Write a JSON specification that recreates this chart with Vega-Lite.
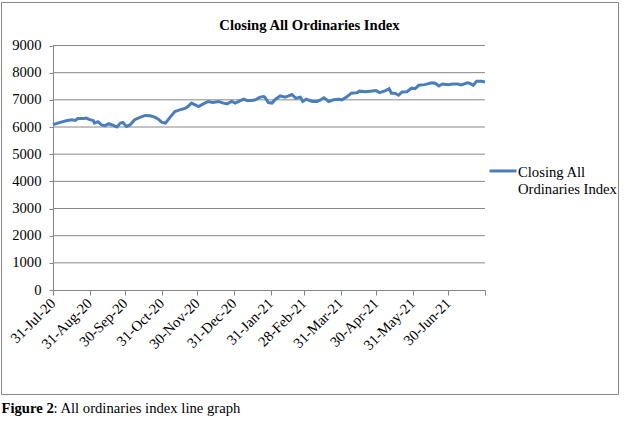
{
  "$schema": "https://vega.github.io/schema/vega-lite/v6.json",
  "autosize": "none",
  "width": 617,
  "height": 392,
  "padding": {"left": 1, "top": 2, "right": 6, "bottom": 27},
  "background": "white",
  "title": {
    "text": "Closing All Ordinaries Index",
    "orient": "top",
    "anchor": "middle",
    "frame": "group",
    "offset": -43,
    "baseline": "alphabetic",
    "font": "Liberation Serif",
    "fontSize": 14.67,
    "fontWeight": "bold",
    "color": "#000000"
  },
  "config": {
    "view": {"stroke": "#868686", "strokeWidth": 1},
    "axis": {
      "labelFont": "Liberation Serif",
      "labelFontSize": 14.67,
      "labelColor": "#000000",
      "domainColor": "#868686",
      "tickColor": "#868686",
      "titleFont": "Liberation Serif",
      "titleFontSize": 14.67,
      "titleColor": "#000000",
      "grid": false
    },
    "legend": {
      "labelFont": "Liberation Serif",
      "labelFontSize": 14.67,
      "labelColor": "#000000"
    }
  },
  "datasets": {
    "index": [
      {"date": "2020-07-31", "close": 6085},
      {"date": "2020-08-06", "close": 6170},
      {"date": "2020-08-12", "close": 6240},
      {"date": "2020-08-16", "close": 6270},
      {"date": "2020-08-19", "close": 6240},
      {"date": "2020-08-21", "close": 6315},
      {"date": "2020-08-26", "close": 6315},
      {"date": "2020-08-28", "close": 6330},
      {"date": "2020-08-31", "close": 6270},
      {"date": "2020-09-03", "close": 6240},
      {"date": "2020-09-04", "close": 6145},
      {"date": "2020-09-07", "close": 6195},
      {"date": "2020-09-10", "close": 6075},
      {"date": "2020-09-13", "close": 6050},
      {"date": "2020-09-16", "close": 6120},
      {"date": "2020-09-19", "close": 6075},
      {"date": "2020-09-23", "close": 6000},
      {"date": "2020-09-26", "close": 6145},
      {"date": "2020-09-28", "close": 6170},
      {"date": "2020-10-01", "close": 6020},
      {"date": "2020-10-04", "close": 6075},
      {"date": "2020-10-08", "close": 6270},
      {"date": "2020-10-13", "close": 6365},
      {"date": "2020-10-17", "close": 6425},
      {"date": "2020-10-21", "close": 6415},
      {"date": "2020-10-25", "close": 6365},
      {"date": "2020-10-28", "close": 6290},
      {"date": "2020-10-31", "close": 6170},
      {"date": "2020-11-03", "close": 6145},
      {"date": "2020-11-07", "close": 6365},
      {"date": "2020-11-11", "close": 6570},
      {"date": "2020-11-15", "close": 6630},
      {"date": "2020-11-20", "close": 6695},
      {"date": "2020-11-22", "close": 6755},
      {"date": "2020-11-25", "close": 6880},
      {"date": "2020-11-28", "close": 6815},
      {"date": "2020-12-01", "close": 6755},
      {"date": "2020-12-05", "close": 6850},
      {"date": "2020-12-09", "close": 6940},
      {"date": "2020-12-13", "close": 6900},
      {"date": "2020-12-18", "close": 6940},
      {"date": "2020-12-22", "close": 6880},
      {"date": "2020-12-25", "close": 6850},
      {"date": "2020-12-29", "close": 6940},
      {"date": "2021-01-01", "close": 6880},
      {"date": "2021-01-04", "close": 6940},
      {"date": "2021-01-08", "close": 7025},
      {"date": "2021-01-11", "close": 6975},
      {"date": "2021-01-15", "close": 6975},
      {"date": "2021-01-18", "close": 7000},
      {"date": "2021-01-22", "close": 7100},
      {"date": "2021-01-25", "close": 7120},
      {"date": "2021-01-26", "close": 7100},
      {"date": "2021-01-29", "close": 6900},
      {"date": "2021-02-01", "close": 6880},
      {"date": "2021-02-04", "close": 7025},
      {"date": "2021-02-08", "close": 7145},
      {"date": "2021-02-12", "close": 7100},
      {"date": "2021-02-15", "close": 7145},
      {"date": "2021-02-18", "close": 7195},
      {"date": "2021-02-21", "close": 7060},
      {"date": "2021-02-25", "close": 7100},
      {"date": "2021-02-27", "close": 6940},
      {"date": "2021-03-02", "close": 7025},
      {"date": "2021-03-07", "close": 6940},
      {"date": "2021-03-11", "close": 6940},
      {"date": "2021-03-14", "close": 7000},
      {"date": "2021-03-17", "close": 7075},
      {"date": "2021-03-21", "close": 6940},
      {"date": "2021-03-25", "close": 7000},
      {"date": "2021-03-29", "close": 7025},
      {"date": "2021-04-01", "close": 7000},
      {"date": "2021-04-05", "close": 7100},
      {"date": "2021-04-09", "close": 7245},
      {"date": "2021-04-14", "close": 7265},
      {"date": "2021-04-16", "close": 7320},
      {"date": "2021-04-21", "close": 7300},
      {"date": "2021-04-25", "close": 7320},
      {"date": "2021-04-30", "close": 7340},
      {"date": "2021-05-03", "close": 7265},
      {"date": "2021-05-08", "close": 7340},
      {"date": "2021-05-11", "close": 7410},
      {"date": "2021-05-13", "close": 7245},
      {"date": "2021-05-16", "close": 7245},
      {"date": "2021-05-19", "close": 7170},
      {"date": "2021-05-22", "close": 7290},
      {"date": "2021-05-26", "close": 7300},
      {"date": "2021-05-30", "close": 7430},
      {"date": "2021-06-02", "close": 7410},
      {"date": "2021-06-05", "close": 7535},
      {"date": "2021-06-10", "close": 7560},
      {"date": "2021-06-16", "close": 7630},
      {"date": "2021-06-19", "close": 7610},
      {"date": "2021-06-22", "close": 7510},
      {"date": "2021-06-25", "close": 7585},
      {"date": "2021-06-30", "close": 7560},
      {"date": "2021-07-04", "close": 7585},
      {"date": "2021-07-08", "close": 7585},
      {"date": "2021-07-11", "close": 7550},
      {"date": "2021-07-16", "close": 7630},
      {"date": "2021-07-18", "close": 7610},
      {"date": "2021-07-21", "close": 7535},
      {"date": "2021-07-24", "close": 7680},
      {"date": "2021-07-28", "close": 7680},
      {"date": "2021-07-31", "close": 7660}
    ],
    "grid": [
      {"g": 1000}, {"g": 2000}, {"g": 3000}, {"g": 4000}, {"g": 5000},
      {"g": 6000}, {"g": 7000}, {"g": 8000}, {"g": 9000}
    ]
  },
  "layer": [
    {
      "data": {"name": "grid"},
      "mark": {"type": "rule", "color": "#868686", "strokeWidth": 1},
      "encoding": {
        "y": {"field": "g", "type": "quantitative", "axis": {"title": "Figure 2"}},
        "x": {"datum": {"year": 2020, "month": "jul", "date": 31, "utc": true}, "type": "temporal", "axis": {"title": ": All ordinaries index line graph"}},
        "x2": {"datum": {"year": 2021, "month": "jul", "date": 31, "utc": true}}
      }
    },
    {
      "data": {"name": "index"},
      "mark": {"type": "line", "strokeWidth": 3, "interpolate": "linear"},
      "encoding": {
        "x": {
          "field": "date",
          "type": "temporal",
          "scale": {
            "type": "utc",
            "domain": [
              {"year": 2020, "month": "jul", "date": 31, "utc": true},
              {"year": 2021, "month": "jul", "date": 31, "utc": true}
            ],
            "range": [52, 484],
            "nice": false
          },
          "axis": {
            "orient": "bottom",
            "offset": -104,
            "values": [
              {"year": 2020, "month": "jul", "date": 31, "utc": true},
              {"year": 2020, "month": "aug", "date": 31, "utc": true},
              {"year": 2020, "month": "sep", "date": 30, "utc": true},
              {"year": 2020, "month": "oct", "date": 31, "utc": true},
              {"year": 2020, "month": "nov", "date": 30, "utc": true},
              {"year": 2020, "month": "dec", "date": 31, "utc": true},
              {"year": 2021, "month": "jan", "date": 31, "utc": true},
              {"year": 2021, "month": "feb", "date": 28, "utc": true},
              {"year": 2021, "month": "mar", "date": 31, "utc": true},
              {"year": 2021, "month": "apr", "date": 30, "utc": true},
              {"year": 2021, "month": "may", "date": 31, "utc": true},
              {"year": 2021, "month": "jun", "date": 30, "utc": true},
              {"year": 2021, "month": "jul", "date": 31, "utc": true}
            ],
            "labelExpr": "datum.index == 1 ? '' : utcFormat(datum.value, '%d-%b-%y')",
            "labelAngle": -45,
            "labelAlign": "right",
            "labelBaseline": "middle",
            "labelOverlap": false,
            "tickSize": 5,
            "labelPadding": 6,
            "title": ": All ordinaries index line graph",
            "titleX": 52,
            "titleY": 122,
            "titleAlign": "left",
            "titleBaseline": "alphabetic",
            "titleAngle": 0,
            "titleFontWeight": "normal"
          }
        },
        "y": {
          "field": "close",
          "type": "quantitative",
          "scale": {"domain": [0, 9000], "range": [288, 43.5], "nice": false, "zero": true},
          "axis": {
            "orient": "left",
            "offset": -52,
            "values": [0, 1000, 2000, 3000, 4000, 5000, 6000, 7000, 8000, 9000],
            "format": "d",
            "tickSize": 4,
            "labelPadding": 8,
            "title": "Figure 2",
            "titleX": -52,
            "titleY": 410,
            "titleAngle": 0,
            "titleAlign": "left",
            "titleBaseline": "alphabetic",
            "titleFontWeight": "bold"
          }
        },
        "color": {
          "datum": "Closing All Ordinaries Index",
          "type": "nominal",
          "scale": {"range": ["#4a7ebb"]},
          "legend": {
            "orient": "none",
            "legendX": 487,
            "legendY": 156,
            "title": null,
            "padding": 0,
            "labelExpr": "['Closing All', 'Ordinaries Index']",
            "symbolType": "M-1,-0.15H1",
            "symbolSize": 729,
            "symbolStrokeWidth": 3,
            "labelOffset": 0,
            "labelLimit": 200
          }
        }
      }
    }
  ]
}
